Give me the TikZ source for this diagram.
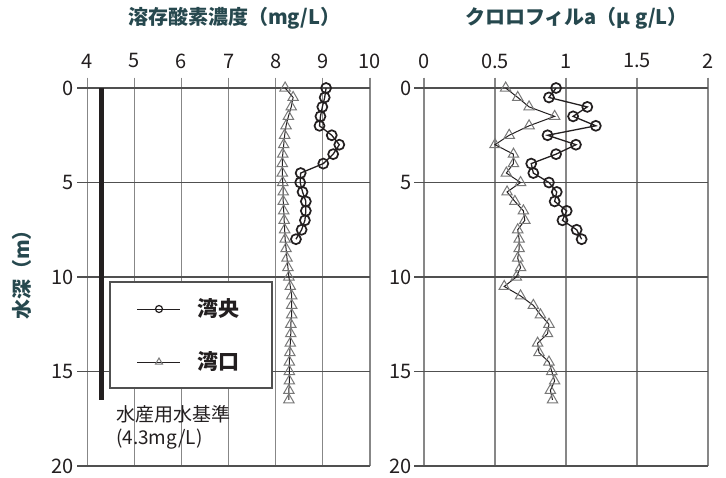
\documentclass[tikz,border=0pt]{standalone}
\usepackage{fontspec}
\setmainfont{Noto Sans CJK JP}
\usetikzlibrary{plotmarks}
\definecolor{titleteal}{RGB}{38,72,78}
\definecolor{inkblack}{RGB}{35,31,32}
\definecolor{gridgray}{RGB}{135,135,135}
\definecolor{axisgray}{RGB}{80,80,80}
\definecolor{markgray}{RGB}{120,120,120}
\tikzset{
  vgrid/.style={draw=gridgray,line width=1.3pt},
  hgrid/.style={draw=axisgray,line width=1.3pt},
  ticklabel/.style={font=\fontsize{20}{22}\selectfont,text=inkblack,inner sep=0pt},
  titletext/.style={font=\fontsize{20}{24}\selectfont\bfseries,text=titleteal,inner sep=0pt},
  keytext/.style={font=\fontsize{21}{24}\selectfont\bfseries,text=inkblack,inner sep=0pt,anchor=west},
  stdtext/.style={font=\fontsize{19}{22}\selectfont,text=inkblack,inner sep=0pt,anchor=west},
  baycentre/.style={draw=inkblack,line width=1.3pt,mark=o,mark size=5pt,mark options={line width=1.7pt}},
  baymouth/.style={draw=inkblack,line width=1pt,mark=triangle,mark size=6pt,mark options={draw=markgray,line width=1pt}},
}

\begin{document}
\begin{tikzpicture}[x=1pt,y=-1pt]
  \useasboundingbox[fill=white] (0,0) rectangle (726,477);
  % titles
  \node[titletext,anchor=west] (dotitle) at (128,18) {溶存酸素濃度（mg/L）};
  \node[titletext,anchor=west] (chltitle) at (465,18) {クロロフィルa（μ g/L）};
  \node[titletext,rotate=90] (depthlabel) at (22,270) {水深（m）};

  % dissolved oxygen
  \begin{scope}[shift={(-101.1,88)},x=47.1pt,y=-18.9pt]
    \foreach \v in {4,...,10} {
      \draw[vgrid] (\v,-0.55) -- (\v,20);
      \node[ticklabel] (dotick\v) at (\v,-1.43) {\v};
    }
    \foreach \d in {0,5,10,15,20} {
      \draw[hgrid] (3.79,\d) -- (10,\d);
      \node[ticklabel,anchor=east] (dodepth\d) at (3.72,\d) {\d};
    }
    \draw[inkblack,line width=5.5pt] (4.3,0) -- (4.3,16.5);
    \draw[baymouth] plot coordinates {(8.20,0) (8.37,0.5) (8.33,1) (8.27,1.5) (8.22,2) (8.19,2.5)
      (8.17,3) (8.15,3.5) (8.14,4) (8.14,4.5) (8.15,5) (8.16,5.5) (8.16,6) (8.17,6.5) (8.18,7)
      (8.19,7.5) (8.20,8) (8.22,8.5) (8.24,9) (8.26,9.5) (8.28,10) (8.31,10.5) (8.34,11)
      (8.34,11.5) (8.34,12) (8.32,12.5) (8.32,13) (8.31,13.5) (8.30,14) (8.29,14.5) (8.29,15)
      (8.29,15.5) (8.28,16) (8.28,16.5)};
    \draw[baycentre] plot coordinates {(9.07,0) (9.04,0.5) (8.99,1) (8.95,1.5) (8.93,2) (9.19,2.5)
      (9.35,3) (9.22,3.5) (9.01,4) (8.53,4.5) (8.52,5) (8.57,5.5) (8.64,6) (8.64,6.5) (8.62,7)
      (8.55,7.5) (8.43,8)};
  \end{scope}

  % chlorophyll a
  \begin{scope}[shift={(424,88)},x=142pt,y=-18.9pt]
    \foreach \v [count=\i] in {0,0.5,1,1.5,2} {
      \draw[vgrid] (\v,-0.55) -- (\v,20);
      \node[ticklabel] (cltick\i) at (\v,-1.43) {\v};
    }
    \foreach \d in {0,5,10,15,20} {
      \draw[hgrid] (-0.07,\d) -- (2,\d);
      \node[ticklabel,anchor=east] (cldepth\d) at (-0.085,\d) {\d};
    }
    \draw[baymouth] plot coordinates {(0.575,0) (0.66,0.5) (0.74,1) (0.92,1.5) (0.74,2) (0.60,2.5)
      (0.50,3) (0.63,3.5) (0.63,4) (0.58,4.5) (0.68,5) (0.585,5.5) (0.64,6) (0.70,6.5) (0.71,7)
      (0.66,7.5) (0.67,8) (0.67,8.5) (0.66,9) (0.68,9.5) (0.65,10) (0.565,10.5) (0.68,11)
      (0.77,11.5) (0.82,12) (0.88,12.5) (0.87,13) (0.80,13.5) (0.81,14) (0.88,14.5) (0.90,15)
      (0.92,15.5) (0.89,16) (0.905,16.5)};
    \draw[baycentre] plot coordinates {(0.93,0) (0.88,0.5) (1.15,1) (1.05,1.5) (1.21,2) (0.87,2.5)
      (1.07,3) (0.93,3.5) (0.755,4) (0.77,4.5) (0.88,5) (0.935,5.5) (0.92,6) (1.005,6.5)
      (0.975,7) (1.075,7.5) (1.11,8)};
  \end{scope}

  % legend
  \node[draw=axisgray,line width=1.3pt,fill=white,minimum width=162pt,minimum height=106pt,inner sep=0pt] (legend) at (191,335) {};
  \node[keytext] (keycentre) at (197,309) {湾央};
  \node[keytext] (keymouth) at (197,362) {湾口};
  \coordinate (keycentreL) at (137,309);
  \coordinate (keycentreR) at (180,309);
  \coordinate (keymouthL) at (137,362);
  \coordinate (keymouthR) at (180,362);
  \draw[inkblack,line width=1pt] (keycentreL) -- (keycentreR);
  \draw[inkblack,line width=1pt] (keymouthL) -- (keymouthR);
  \draw[baycentre,mark size=3.5pt,mark options={line width=1.2pt}] plot coordinates {(159,309)};
  \draw[baymouth,mark size=4pt] plot coordinates {(159,362)};

  % standard
  \node[stdtext] (stdname) at (116,414) {水産用水基準};
  \node[stdtext] (stdvalue) at (116,439) {(4.3mg/L)};
\end{tikzpicture}
\end{document}
